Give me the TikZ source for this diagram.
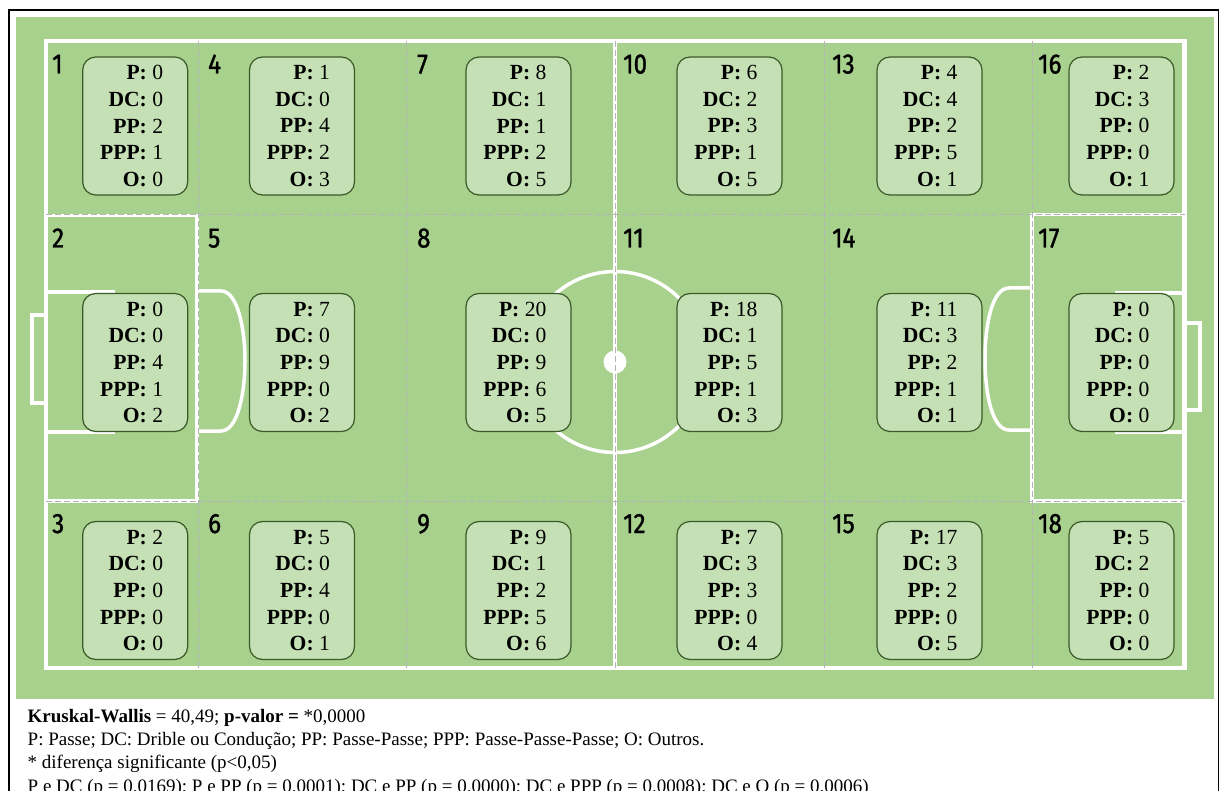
\documentclass[tikz,border=0pt]{standalone}
\usepackage{fontspec}
\setmainfont{Liberation Serif}
\newfontfamily\zonefont[FakeStretch=0.86,FakeBold=1.3]{Fira Sans}
\usetikzlibrary{calc}
\definecolor{pitch}{HTML}{A9D18E}
\definecolor{boxfill}{HTML}{C5E0B4}
\definecolor{boxline}{HTML}{3A5A28}
\definecolor{zoneline}{HTML}{B4B4B4}
\tikzset{
  pitchline/.style={white, line width=3.5pt},
  outerline/.style={white, line width=4.5pt},
  zonedash/.style={zoneline, line width=1pt, dash pattern=on 6pt off 3pt},
  databox/.style={draw=boxline, fill=boxfill, line width=1.2pt, rounded corners=13pt,
    minimum width=105pt, minimum height=138pt, inner sep=0pt},
  datatext/.style={align=right, inner sep=0pt, font=\fontsize{21.6}{26.7}\selectfont},
  zonelabel/.style={anchor=base west, inner sep=0pt, font=\zonefont\fontsize{28}{30}\selectfont},
  notetext/.style={anchor=base west, inner sep=0pt, font=\fontsize{19}{23}\selectfont},
}
\newcommand\zonedata[8]{%
  \node[databox] (#1) at (#2,#3) {};
  \node[datatext, anchor=east] (#1t) at ([xshift=-25pt]#1.east)
    {\textbf{P:} #4\\\textbf{DC:} #5\\\textbf{PP:} #6\\\textbf{PPP:} #7\\\textbf{O:} #8};
}
\begin{document}
\begin{tikzpicture}[x=1pt,y=-1pt]
\useasboundingbox (0,0) rectangle (1220,791);
% frame and grass
\draw[black, line width=1.5pt] (9,10) rectangle (1218.5,830);
\fill[pitch] (16,17) rectangle (1213.5,698.5);
% pitch markings
\draw[outerline] (46,41) rectangle (1184.5,668);
\draw[pitchline] (615,41) -- (615,668);
\draw[pitchline] (615,362) circle (90.5);
\fill[white] (615,362) circle (11.5);
% left side
\draw[pitchline] (46,215.5) -- (197,215.5) -- (197,501) -- (46,501);
\draw[pitchline] (46,292) -- (113,292) -- (113,432) -- (46,432);
\draw[pitchline] (46,315) -- (32,315) -- (32,403) -- (46,403);
\draw[pitchline] (198,291) -- (221,291) .. controls (238,291) and (245,330) .. (245,361)
  .. controls (245,392) and (238,431) .. (221,431) -- (198,431);
% right side
\draw[pitchline] (1184.5,214.5) -- (1032,214.5) -- (1032,501) -- (1184.5,501);
\draw[pitchline] (1184.5,293) -- (1117,293) -- (1117,432) -- (1184.5,432);
\draw[pitchline] (1184.5,323) -- (1200,323) -- (1200,410) -- (1184.5,410);
\draw[pitchline] (1032,288) -- (1009,288) .. controls (992,288) and (985,325) .. (985,359)
  .. controls (985,393) and (992,430) .. (1009,430) -- (1032,430);
% zone boundaries
\foreach \xx in {198.5,406,615,824,1032} \draw[zonedash] (\xx,41) -- (\xx,668);
\foreach \yy in {215,501} \draw[zonedash] (46,\yy) -- (1184.5,\yy);
% zone labels
\node[zonelabel] (l1) at (52,73.5) {1};
\node[zonelabel] (l2) at (52,247.5) {2};
\node[zonelabel] (l3) at (52,533) {3};
\node[zonelabel] (l4) at (208,73.5) {4};
\node[zonelabel] (l5) at (208,247.5) {5};
\node[zonelabel] (l6) at (208,533) {6};
\node[zonelabel] (l7) at (417,73.5) {7};
\node[zonelabel] (l8) at (417,247.5) {8};
\node[zonelabel] (l9) at (417,533) {9};
\node[zonelabel] (l10) at (623,73.5) {10};
\node[zonelabel] (l11) at (623,247.5) {11};
\node[zonelabel] (l12) at (623,533) {12};
\node[zonelabel] (l13) at (832,73.5) {13};
\node[zonelabel] (l14) at (832,247.5) {14};
\node[zonelabel] (l15) at (832,533) {15};
\node[zonelabel] (l16) at (1038,73.5) {16};
\node[zonelabel] (l17) at (1038,247.5) {17};
\node[zonelabel] (l18) at (1038,533) {18};
% data boxes
\zonedata{z1}{135.2}{126}{0}{0}{2}{1}{0}
\zonedata{z2}{135.2}{362.5}{0}{0}{4}{1}{2}
\zonedata{z3}{135.2}{590.5}{2}{0}{0}{0}{0}
\zonedata{z4}{302}{126}{1}{0}{4}{2}{3}
\zonedata{z5}{302}{362.5}{7}{0}{9}{0}{2}
\zonedata{z6}{302}{590.5}{5}{0}{4}{0}{1}
\zonedata{z7}{518.5}{126}{8}{1}{1}{2}{5}
\zonedata{z8}{518.5}{362.5}{20}{0}{9}{6}{5}
\zonedata{z9}{518.5}{590.5}{9}{1}{2}{5}{6}
\zonedata{z10}{729.5}{126}{6}{2}{3}{1}{5}
\zonedata{z11}{729.5}{362.5}{18}{1}{5}{1}{3}
\zonedata{z12}{729.5}{590.5}{7}{3}{3}{0}{4}
\zonedata{z13}{929.5}{126}{4}{4}{2}{5}{1}
\zonedata{z14}{929.5}{362.5}{11}{3}{2}{1}{1}
\zonedata{z15}{929.5}{590.5}{17}{3}{2}{0}{5}
\zonedata{z16}{1121.5}{126}{2}{3}{0}{0}{1}
\zonedata{z17}{1121.5}{362.5}{0}{0}{0}{0}{0}
\zonedata{z18}{1121.5}{590.5}{5}{2}{0}{0}{0}
% notes
\node[notetext] (n1) at (27.5,722.3) {\textbf{Kruskal-Wallis} = 40,49; \textbf{p-valor =} *0,0000};
\node[notetext] (n2) at (27.5,745.5) {P: Passe; DC: Drible ou Condução; PP: Passe-Passe; PPP: Passe-Passe-Passe; O: Outros.};
\node[notetext] (n3) at (27.5,768.5) {* diferença significante (p<0,05)};
\node[notetext] (n4) at (27.5,792) {P e DC (p = 0.0169); P e PP (p = 0.0001); DC e PP (p = 0.0000); DC e PPP (p = 0.0008); DC e O (p = 0.0006)};
\end{tikzpicture}
\end{document}
